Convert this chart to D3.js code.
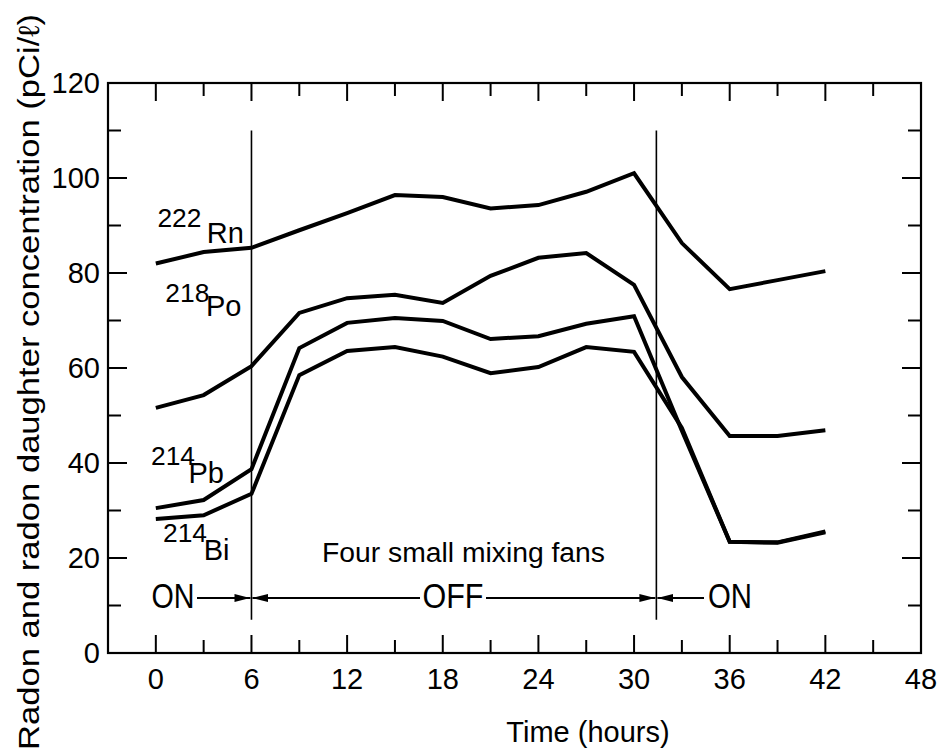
<!DOCTYPE html>
<html><head><meta charset="utf-8">
<script src="https://cdn.jsdelivr.net/npm/d3@7"></script>
<style>body{margin:0;background:#fff}svg{display:block}</style>
</head><body>
<svg id="c" width="944" height="752"></svg>
<script>
const hours = [0,3,6,9,12,15,18,21,24,27,30,33,36,39,42];
const rn222 = [82,84.4,85.3,89,92.6,96.4,96,93.6,94.3,97.1,101,86.3,76.6,78.5,80.4];
const po218 = [51.6,54.3,60.4,71.6,74.7,75.4,73.7,79.4,83.2,84.2,77.5,58.1,45.7,45.7,46.9];
const pb214 = [30.5,32.2,38.7,64.2,69.5,70.5,69.9,66.1,66.7,69.3,70.9,46.8,23.4,23.3,25.6];
const bi214 = [28.2,29,33.5,58.5,63.6,64.4,62.4,58.9,60.2,64.4,63.4,47.4,23.4,23.2,25.4];
const xTickLabels = [0,6,12,18,24,30,36,42,48];
const yTickLabels = [0,20,40,60,80,100,120];
const fanSwitchHours = [6,31.4];
const seriesLabels = [
  {sup:"222", main:"Rn", sx:0.1, sy:89.7, mx:3.2, my:86.3},
  {sup:"218", main:"Po", sx:0.6, sy:73.9, mx:3.15, my:70.9},
  {sup:"214", main:"Pb", sx:-0.3, sy:39.6, mx:2.05, my:35.8},
  {sup:"214", main:"Bi", sx:0.45, sy:23.4, mx:3.0, my:19.6}
];

const svg = d3.select("#c");
const font = "Liberation Sans, Arial, sans-serif";
const L=108, R=921, T=83, B=653;
const x = d3.scaleLinear().domain([-3,48]).range([L,R]);
const y = d3.scaleLinear().domain([0,120]).range([B,T]);

// frame
svg.append("rect").attr("x",L).attr("y",T).attr("width",R-L).attr("height",B-T)
  .attr("fill","none").attr("stroke","#000").attr("stroke-width",2.2);

// ticks
const xt = d3.range(0,48,3);
const g = svg.append("g").attr("stroke","#000").attr("stroke-width",2);
xt.forEach(h=>{
  const len = h%6===0?18:13;
  g.append("line").attr("x1",x(h)).attr("x2",x(h)).attr("y1",B).attr("y2",B-len);
  g.append("line").attr("x1",x(h)).attr("x2",x(h)).attr("y1",T).attr("y2",T+len);
});
d3.range(10,120,10).forEach(v=>{
  const len = v%20===0?19:13;
  g.append("line").attr("x1",L).attr("x2",L+len).attr("y1",y(v)).attr("y2",y(v));
  g.append("line").attr("x1",R).attr("x2",R-len).attr("y1",y(v)).attr("y2",y(v));
});

// tick labels
svg.append("g").selectAll("text").data(xTickLabels).join("text")
  .attr("x",d=>x(d)).attr("y",689).attr("text-anchor","middle")
  .attr("font-family",font).attr("font-size",29).text(d=>d);
svg.append("g").selectAll("text").data(yTickLabels).join("text")
  .attr("x",100).attr("y",d=>y(d)).attr("dy","0.36em").attr("text-anchor","end")
  .attr("font-family",font).attr("font-size",29).text(d=>d);

// axis titles
svg.append("text").attr("x",588).attr("y",742).attr("text-anchor","middle")
  .attr("font-family",font).attr("font-size",29).text("Time (hours)");
svg.append("text").attr("transform","translate(39,382) rotate(-90)")
  .attr("text-anchor","middle").attr("font-family",font).attr("font-size",29)
  .attr("textLength",736).attr("lengthAdjust","spacingAndGlyphs")
  .text("Radon and radon daughter concentration (pCi/ℓ)");

// vertical switch lines
fanSwitchHours.forEach(h=>{
  svg.append("line").attr("x1",x(h)).attr("x2",x(h)).attr("y1",y(110)).attr("y2",y(7))
    .attr("stroke","#000").attr("stroke-width",1.6);
});

// series lines
const line = d3.line().x((d,i)=>x(hours[i])).y(d=>y(d));
[rn222,po218,pb214,bi214].forEach(s=>{
  svg.append("path").attr("d",line(s)).attr("fill","none").attr("stroke","#000")
    .attr("stroke-width",4).attr("stroke-linejoin","miter");
});

// series labels
seriesLabels.forEach(l=>{
  svg.append("text").attr("x",x(l.sx)).attr("y",y(l.sy)).attr("font-family",font)
    .attr("font-size",25).attr("textLength",44).attr("lengthAdjust","spacingAndGlyphs").text(l.sup);
  svg.append("text").attr("x",x(l.mx)).attr("y",y(l.my)).attr("font-family",font)
    .attr("font-size",29).text(l.main);
});

// annotation
svg.append("text").attr("x",x(19.3)).attr("y",562).attr("text-anchor","middle")
  .attr("font-family",font).attr("font-size",27)
  .attr("textLength",283).attr("lengthAdjust","spacingAndGlyphs")
  .text("Four small mixing fans");

const ay = 598;
const defs = svg.append("defs");
defs.append("marker").attr("id","ah").attr("viewBox","0 0 16 8").attr("refX",16).attr("refY",4)
  .attr("markerWidth",16).attr("markerHeight",8).attr("markerUnits","userSpaceOnUse")
  .attr("orient","auto").append("path").attr("d","M0,0L16,4L0,8Z").attr("fill","#000");
function arrow(x1,x2){
  svg.append("line").attr("x1",x1).attr("x2",x2).attr("y1",ay).attr("y2",ay)
    .attr("stroke","#000").attr("stroke-width",1.8).attr("marker-end","url(#ah)");
}
function label(t,cx,w){
  svg.append("text").attr("x",cx).attr("y",ay+10).attr("text-anchor","middle")
    .attr("font-family",font).attr("font-size",35)
    .attr("textLength",w).attr("lengthAdjust","spacingAndGlyphs").text(t);
}
label("ON",173,43);
arrow(197,x(6)-1);
label("OFF",453,61);
arrow(420,x(6)+1);
arrow(486,x(31.4)-1);
label("ON",730,44);
arrow(704,x(31.4)+1);
</script>
</body></html>
